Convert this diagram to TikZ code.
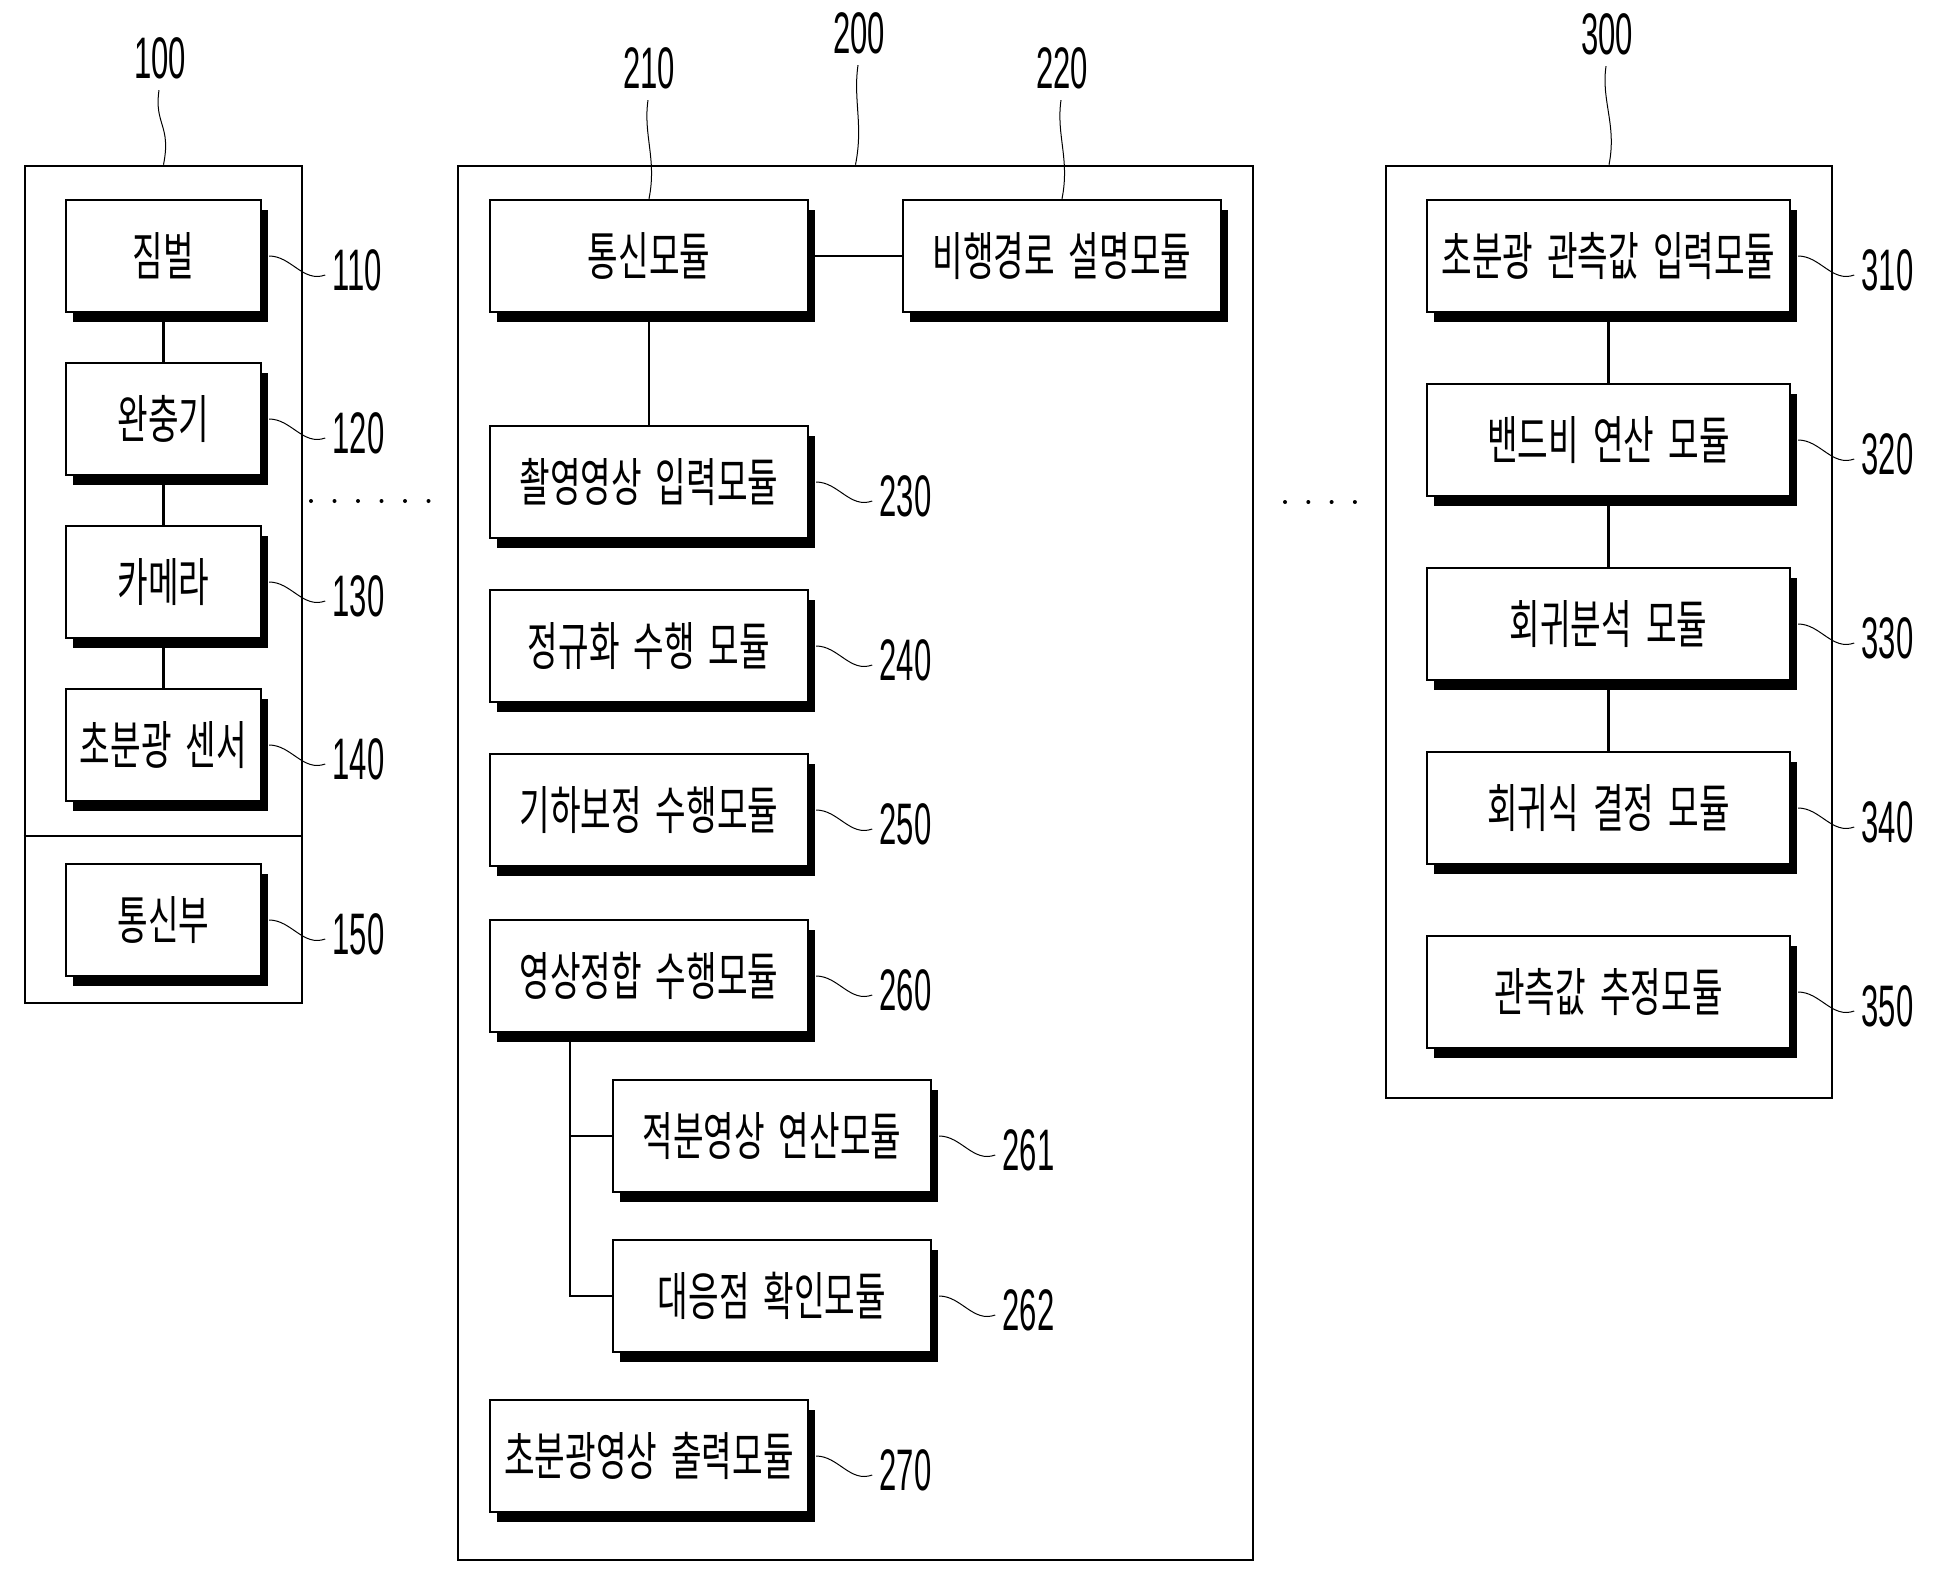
\documentclass[tikz,border=0pt]{standalone}
\usepackage{fontspec}
\usepackage{graphicx}
\usetikzlibrary{shadows,calc}
\newfontfamily\kr[FakeStretch=0.64]{Noto Sans CJK KR}
\newfontfamily\numf[FakeStretch=0.53]{Liberation Sans}
\newcommand\ksp{\hspace{7pt}}
\tikzset{
  mbox/.style={draw, line width=1.2pt, fill=white, inner sep=0pt, minimum height=56pt,
    font={\kr\fontsize{26pt}{30pt}\selectfont},
    drop shadow={shadow xshift=3.5pt, shadow yshift=-5pt, fill=black, opacity=1}},
  wa/.style={minimum width=97.5pt},
  wb/.style={minimum width=159pt},
  wc/.style={minimum width=181.5pt},
  outer/.style={draw, line width=1.3pt, inner sep=0pt},
  conn/.style={line width=1.2pt},
  lead/.style={line width=0.5pt},
  num/.style={font={\numf\fontsize{29.3pt}{32pt}\selectfont}, inner sep=0pt},
}
\newcommand\rlead[3]{\draw[lead] ($(#1.east)+(7,0)$) .. controls ($(#1.east)+(29,0)$) and ($(#1.east)+(41,27)$) .. ($(#1.east)+(63,19)$) node[num, anchor=west, xshift=3.5pt, yshift=2.5pt] (#2) {#3};}
\newcommand\tlead[2]{\draw[lead] ($(#1.south)+(-1,11)$) .. controls ($(#1.south)+(-6,46)$) and ($(#2)+(8,-40)$) .. (#2);}
\begin{document}
\begin{tikzpicture}[x=0.5pt,y=-0.5pt]
\useasboundingbox (0,0) rectangle (1949,1586);
% outer boxes
\node[outer, minimum width=138.5pt, minimum height=418.5pt] (b100) at (163.5,584.5) {};
\node[outer, minimum width=397.5pt, minimum height=697pt] (b200) at (855.5,863) {};
\node[outer, minimum width=223pt, minimum height=466pt] (b300) at (1609,632) {};
\coordinate (dv) at (0,836);
\draw[outer] (b100.west |- dv) -- (b100.east |- dv);
% group 100
\node[mbox,wa] (n110) at (163.5,256) {짐벌};
\node[mbox,wa] (n120) at (163.5,419) {완충기};
\node[mbox,wa] (n130) at (163.5,582) {카메라};
\node[mbox,wa] (n140) at (163.5,745) {초분광\ksp 센서};
\node[mbox,wa] (n150) at (163.5,920) {통신부};
% group 200
\node[mbox,wb] (n210) at (649,256) {통신모듈};
\node[mbox,wb] (n220) at (1062,256) {비행경로\ksp 설명모듈};
\node[mbox,wb] (n230) at (649,482) {촬영영상\ksp 입력모듈};
\node[mbox,wb] (n240) at (649,646) {정규화\ksp 수행\ksp 모듈};
\node[mbox,wb] (n250) at (649,810) {기하보정\ksp 수행모듈};
\node[mbox,wb] (n260) at (649,976) {영상정합\ksp 수행모듈};
\node[mbox,wb] (n261) at (772,1136) {적분영상\ksp 연산모듈};
\node[mbox,wb] (n262) at (772,1296) {대응점\ksp 확인모듈};
\node[mbox,wb] (n270) at (649,1456) {초분광영상\ksp 출력모듈};
% group 300
\node[mbox,wc] (n310) at (1608.5,256) {초분광\ksp 관측값\ksp 입력모듈};
\node[mbox,wc] (n320) at (1608.5,440) {밴드비\ksp 연산\ksp 모듈};
\node[mbox,wc] (n330) at (1608.5,624) {회귀분석\ksp 모듈};
\node[mbox,wc] (n340) at (1608.5,808) {회귀식\ksp 결정\ksp 모듈};
\node[mbox,wc] (n350) at (1608.5,992) {관측값\ksp 추정모듈};
% connectors
\draw[conn] (n110) -- (n120);
\draw[conn] (n120) -- (n130);
\draw[conn] (n130) -- (n140);
\draw[conn] (n210) -- (n220);
\draw[conn] (n210) -- (n230);
\coordinate (br) at ($(n260.south west)+(81,0)$);
\draw[conn] (br) |- (n261.west);
\draw[conn] (br) |- (n262.west);
\draw[conn] (n310) -- (n320);
\draw[conn] (n320) -- (n330);
\draw[conn] (n330) -- (n340);
% dots
\foreach \i in {0,...,5} \fill ({311+23.5*\i},501) circle (1pt);
\foreach \i in {0,...,3} \fill ({1285+23.3*\i},502) circle (1pt);
% top labels
\node[num] (l100) at (160,58) {100};
\node[num] (l200) at (859,33) {200};
\node[num] (l210) at (649,68) {210};
\node[num] (l220) at (1062,68) {220};
\node[num] (l300) at (1607,34) {300};
\tlead{l100}{b100.north}
\tlead{l200}{b200.north}
\tlead{l210}{n210.north}
\tlead{l220}{n220.north}
\tlead{l300}{b300.north}
% right labels
\rlead{n110}{l110}{110}
\rlead{n120}{l120}{120}
\rlead{n130}{l130}{130}
\rlead{n140}{l140}{140}
\rlead{n150}{l150}{150}
\rlead{n230}{l230}{230}
\rlead{n240}{l240}{240}
\rlead{n250}{l250}{250}
\rlead{n260}{l260}{260}
\rlead{n261}{l261}{261}
\rlead{n262}{l262}{262}
\rlead{n270}{l270}{270}
\rlead{n310}{l310}{310}
\rlead{n320}{l320}{320}
\rlead{n330}{l330}{330}
\rlead{n340}{l340}{340}
\rlead{n350}{l350}{350}
\end{tikzpicture}
\end{document}
